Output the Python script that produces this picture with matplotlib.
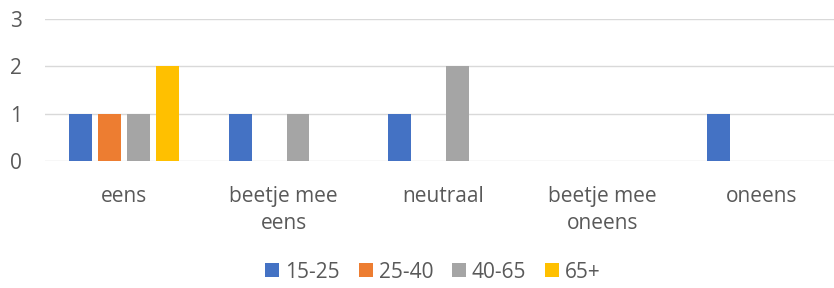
import matplotlib
matplotlib.use("Agg")
import matplotlib.pyplot as plt
from matplotlib.patches import Patch
import numpy as np

categories = ["eens", "beetje mee\neens", "neutraal", "beetje mee\noneens", "oneens"]
series_names = ["15-25", "25-40", "40-65", "65+"]
s_15_25 = [1, 1, 1, 0, 1]
s_25_40 = [1, 0, 0, 0, 0]
s_40_65 = [1, 1, 2, 0, 0]
s_65plus = [2, 0, 0, 0, 0]
series_values = [s_15_25, s_25_40, s_40_65, s_65plus]
colors = ["#4472C4", "#ED7D31", "#A5A5A5", "#FFC000"]
yticks = [0, 1, 2, 3]

plt.rcParams['font.family'] = ['Open Sans', 'DejaVu Sans']
W, H = 834, 288
fig = plt.figure(figsize=(W / 100, H / 100), dpi=100)
left_px, top_px, bottom_px = 44.5, 19.0, 161.3
ax = fig.add_axes([left_px / W, (H - bottom_px) / H, 1 - left_px / W, (bottom_px - top_px) / H])

x = np.arange(len(categories))
slot = 0.1814
bw = 0.144
for i, (vals, c) in enumerate(zip(series_values, colors)):
    ax.bar(x + (i - 1.5) * slot, vals, width=bw, color=c, zorder=3)

FS = 15
ax.set_ylim(0, 3)
ax.set_xlim(-0.5, -0.5 + (W - left_px) / 159.35)
ax.set_yticks(yticks)
ax.set_yticklabels([str(t) for t in yticks])
ax.set_xticks(x)
ax.set_xticklabels(categories, linespacing=1.4)
ax.tick_params(axis='both', length=0, labelsize=FS, labelcolor='#595959')
ax.tick_params(axis='y', pad=16)
ax.tick_params(axis='x', pad=17.5)
for lab in ax.get_xticklabels():
    lab.set_verticalalignment('top')
for s in ax.spines.values():
    s.set_visible(False)
ax.grid(axis='y', color='#D9D9D9', linewidth=1.0, zorder=0)
ax.set_axisbelow(True)

handles = [Patch(facecolor=c, edgecolor='none') for c in colors]
leg = fig.legend(handles, series_names, loc='center', bbox_to_anchor=(433 / W, (H - 272) / H),
                 ncol=4, frameon=False, fontsize=FS, handlelength=0.67, handleheight=0.67,
                 handletextpad=0.29, columnspacing=0.9, borderaxespad=0)
for t in leg.get_texts():
    t.set_color('#595959')

fig.savefig("out.png", dpi=100)
